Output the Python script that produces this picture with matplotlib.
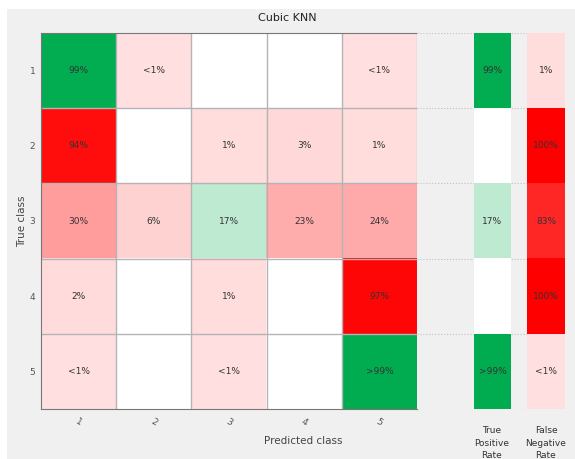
import matplotlib.pyplot as plt
from matplotlib.patches import Rectangle
import numpy as np

# confusion matrix in percent of true class (0 = empty cell)
classes = ['1', '2', '3', '4', '5']
row1 = [99.0, 0.4, 0.0, 0.0, 0.4]
row2 = [94.0, 0.0, 1.0, 3.0, 1.0]
row3 = [30.0, 6.0, 17.0, 23.0, 24.0]
row4 = [2.0, 0.0, 1.0, 0.0, 97.0]
row5 = [0.4, 0.0, 0.4, 0.0, 99.6]
tpr = [99.0, 0.0, 17.0, 0.0, 99.6]
fnr = [1.0, 100.0, 83.0, 100.0, 0.4]

cm = np.array([row1, row2, row3, row4, row5])

GREEN = np.array([0, 172, 79]) / 255
GREEN0 = np.array([231, 247, 238]) / 255
RED = np.array([255, 0, 0]) / 255
RED0 = np.array([255, 224, 224]) / 255


def cell_color(v, good):
    if v == 0:
        return np.array([1.0, 1.0, 1.0])
    t = v / 100.0
    if good:
        return GREEN0 + (GREEN - GREEN0) * t
    return RED0 + (RED - RED0) * t


def fmt(v):
    if v == 0:
        return ''
    if v < 1:
        return '<1%'
    if 99 < v < 100:
        return '>99%'
    return '{:.0f}%'.format(v)


n = len(classes)
fig = plt.figure(figsize=(5.75, 4.59), dpi=100, facecolor='white')
bg = Rectangle((7 / 575, 0), 1, 1 - 9 / 459, transform=fig.transFigure,
               facecolor='#f0f0f0', edgecolor='none', zorder=-10)
fig.patches.append(bg)

W, H = 575.0, 459.0
top, bottom = 1 - 33 / H, 1 - 409 / H

# main matrix
ax = fig.add_axes([41 / W, bottom, (417 - 41) / W, top - bottom])
img = np.zeros((n, n, 3))
for i in range(n):
    for j in range(n):
        img[i, j] = cell_color(cm[i, j], i == j)
ax.imshow(img, extent=(0.5, n + 0.5, n + 0.5, 0.5), aspect='auto', interpolation='nearest')
for i in range(n):
    for j in range(n):
        ax.text(j + 1, i + 1, fmt(cm[i, j]), ha='center', va='center', fontsize=6.5, color='#333333')
for k in range(1, n):
    ax.axhline(k + 0.5, color='#b4b4b4', lw=1)
    ax.axvline(k + 0.5, color='#b4b4b4', lw=1)
ax.set_xlim(0.5, n + 0.5)
ax.set_ylim(n + 0.5, 0.5)
ax.set_xticks(range(1, n + 1))
ax.set_yticks(range(1, n + 1))
ax.set_xticklabels(classes, rotation=-30, fontsize=6.5, color='#555555')
ax.set_yticklabels(classes, fontsize=6.5, color='#555555')
ax.tick_params(length=0)
ax.tick_params(axis='y', pad=4)
ax.tick_params(axis='x', pad=6)
for s in ax.spines.values():
    s.set_color('#777777')
ax.set_xlabel('Predicted class', fontsize=7.5, color='#444444')
ax.xaxis.set_label_coords((303 - 41) / 376, -(436 - 409) / 376, transform=ax.transAxes)
ax.set_ylabel('True class', fontsize=7.5, color='#444444')
ax.yaxis.set_label_coords(-(41 - 27) / 376, 0.5)

# summary columns
ax2 = fig.add_axes([417 / W, bottom, (565 - 417) / W, top - bottom])
ax2.set_facecolor('#f0f0f0')
ax2.set_xlim(0, 1)
ax2.set_ylim(n + 0.5, 0.5)
spans = [(0.385, 0.635), (0.745, 1.0)]
for k in range(n + 1):
    ax2.axhline(k + 0.5, color='#c0c0c0', lw=0.8, ls=':', zorder=1)
for vals, good, (x0, x1) in [(tpr, True, spans[0]), (fnr, False, spans[1])]:
    col = np.array([[cell_color(v, good)] for v in vals])
    ax2.imshow(col, extent=(x0, x1, n + 0.5, 0.5), aspect='auto', interpolation='nearest', zorder=2)
    for i, v in enumerate(vals):
        ax2.text((x0 + x1) / 2, i + 1, fmt(v), ha='center', va='center', fontsize=6.5,
                 color='#333333', zorder=3)
ax2.set_xlim(0, 1)
ax2.set_ylim(n + 0.5, 0.5)
ax2.set_xticks([])
ax2.set_yticks([])
for s in ax2.spines.values():
    s.set_visible(False)

fig.text(492 / W, 1 - 426 / H, 'True\nPositive\nRate', ha='center', va='top', fontsize=6.5,
         color='#333333', linespacing=1.5)
fig.text(546 / W, 1 - 426 / H, 'False\nNegative\nRate', ha='center', va='top', fontsize=6.5,
         color='#333333', linespacing=1.5)
fig.text(287 / W, 1 - 18 / H, 'Cubic KNN', ha='center', va='center', fontsize=8, color='#222222')

fig.savefig('out.png', dpi=100, facecolor=fig.get_facecolor())
